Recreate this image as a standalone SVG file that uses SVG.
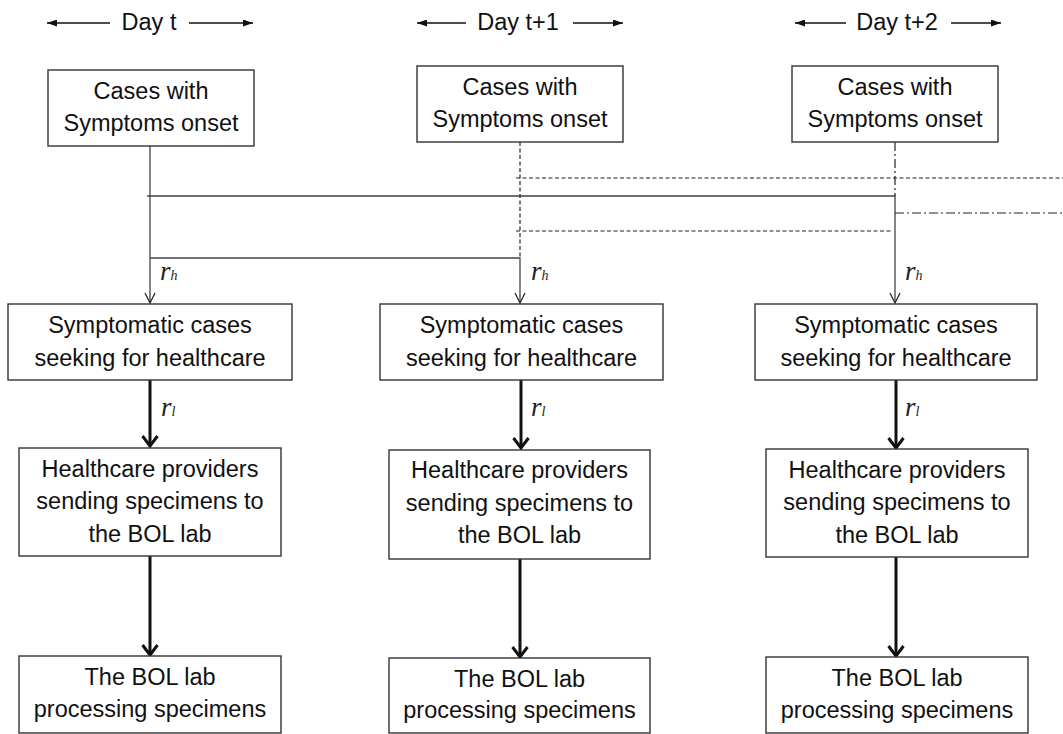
<svg xmlns="http://www.w3.org/2000/svg" width="1063" height="734" viewBox="0 0 1063 734">
  <style>
    .box { fill: #ffffff; stroke: #333; stroke-width: 1.4; }
    .lbl { font-family: "Liberation Sans", Arial, sans-serif; font-size: 23.5px; fill: #111; text-anchor: middle; }
    .day { font-family: "Liberation Sans", Arial, sans-serif; font-size: 23.5px; fill: #111; text-anchor: middle; }
    .math { font-family: "Liberation Serif", "Times New Roman", serif; font-style: italic; font-size: 27px; fill: #222; }
    .sub { font-size: 14px; }
    .thin { fill: none; stroke: #444; stroke-width: 1.3; }
    .dash { fill: none; stroke: #222; stroke-width: 1.2; stroke-dasharray: 4 2.5; }
    .dashdot { fill: none; stroke: #222; stroke-width: 1.2; stroke-dasharray: 9 3 2 3; }
    .thick { fill: none; stroke: #111; stroke-width: 3; }
    .dayline { fill: none; stroke: #111; stroke-width: 1.3; }
  </style>
  <defs>
    <marker id="vthin" viewBox="0 0 12 12" refX="11" refY="6" markerWidth="12" markerHeight="12" markerUnits="userSpaceOnUse" orient="auto">
      <path d="M1,1 L11,6 L1,11" fill="none" stroke="#333" stroke-width="1.4"/>
    </marker>
    <marker id="vthick" viewBox="0 0 13 18" refX="11" refY="9" markerWidth="13" markerHeight="18" markerUnits="userSpaceOnUse" orient="auto">
      <path d="M1,1.5 L11,9 L1,16.5" fill="none" stroke="#111" stroke-width="3" stroke-linejoin="miter"/>
    </marker>
    <marker id="tri" viewBox="0 0 10 7" refX="10" refY="3.5" markerWidth="10" markerHeight="7" markerUnits="userSpaceOnUse" orient="auto">
      <path d="M0,0 L10,3.5 L0,7 z" fill="#111"/>
    </marker>
  </defs>

  <g id="day-labels">
    <line class="dayline" x1="110" y1="23" x2="47" y2="23" marker-end="url(#tri)"/>
    <text class="day" x="149" y="30">Day t</text>
    <line class="dayline" x1="189" y1="23" x2="253" y2="23" marker-end="url(#tri)"/>

    <line class="dayline" x1="466" y1="23" x2="417" y2="23" marker-end="url(#tri)"/>
    <text class="day" x="518" y="30">Day t+1</text>
    <line class="dayline" x1="573" y1="23" x2="623" y2="23" marker-end="url(#tri)"/>

    <line class="dayline" x1="846" y1="23" x2="795" y2="23" marker-end="url(#tri)"/>
    <text class="day" x="897" y="30">Day t+2</text>
    <line class="dayline" x1="951" y1="23" x2="1001" y2="23" marker-end="url(#tri)"/>
  </g>

  <g id="connectors">
    <!-- thin solid routes from Day t onset -->
    <path class="thin" d="M150,146 V303" marker-end="url(#vthin)"/>
    <path class="thin" d="M147,196 H895 V303" marker-end="url(#vthin)"/>
    <path class="thin" d="M150,258 H520 V303" marker-end="url(#vthin)"/>
    <!-- dashed routes from Day t+1 onset -->
    <path class="dash" d="M520,142 V258"/>
    <path class="dash" d="M516,178 H1063"/>
    <path class="dash" d="M516,231 H893"/>
    <!-- dash-dot routes from Day t+2 onset -->
    <path class="dashdot" d="M895,142 V196"/>
    <path class="dashdot" d="M895,213 H1063"/>
    <!-- thick arrows -->
    <path class="thick" d="M150,380 V446" marker-end="url(#vthick)"/>
    <path class="thick" d="M150,556 V655" marker-end="url(#vthick)"/>
    <path class="thick" d="M521,380 V448" marker-end="url(#vthick)"/>
    <path class="thick" d="M520,559 V657" marker-end="url(#vthick)"/>
    <path class="thick" d="M896,380 V448" marker-end="url(#vthick)"/>
    <path class="thick" d="M896,557 V656" marker-end="url(#vthick)"/>
    <!-- rate labels -->
    <text class="math" x="160" y="280">r<tspan class="sub">h</tspan></text>
    <text class="math" x="531" y="280">r<tspan class="sub">h</tspan></text>
    <text class="math" x="905" y="280">r<tspan class="sub">h</tspan></text>
    <text class="math" x="161" y="416">r<tspan class="sub">l</tspan></text>
    <text class="math" x="531" y="416">r<tspan class="sub">l</tspan></text>
    <text class="math" x="905" y="416">r<tspan class="sub">l</tspan></text>
  </g>

  <g id="onset-t">
    <rect class="box" x="48" y="70" width="206" height="76"/>
    <text class="lbl" x="151" y="99">Cases with</text>
    <text class="lbl" x="151" y="131">Symptoms onset</text>
  </g>
  <g id="onset-t1">
    <rect class="box" x="417" y="66" width="206" height="76"/>
    <text class="lbl" x="520" y="95">Cases with</text>
    <text class="lbl" x="520" y="127">Symptoms onset</text>
  </g>
  <g id="onset-t2">
    <rect class="box" x="792" y="66" width="206" height="76"/>
    <text class="lbl" x="895" y="95">Cases with</text>
    <text class="lbl" x="895" y="127">Symptoms onset</text>
  </g>

  <g id="seek-t">
    <rect class="box" x="8" y="304" width="284" height="76"/>
    <text class="lbl" x="150" y="333">Symptomatic cases</text>
    <text class="lbl" x="150" y="366">seeking for healthcare</text>
  </g>
  <g id="seek-t1">
    <rect class="box" x="380" y="304" width="283" height="76"/>
    <text class="lbl" x="521.5" y="333">Symptomatic cases</text>
    <text class="lbl" x="521.5" y="366">seeking for healthcare</text>
  </g>
  <g id="seek-t2">
    <rect class="box" x="755" y="304" width="282" height="76"/>
    <text class="lbl" x="896" y="333">Symptomatic cases</text>
    <text class="lbl" x="896" y="366">seeking for healthcare</text>
  </g>

  <g id="send-t">
    <rect class="box" x="19" y="448" width="262" height="108"/>
    <text class="lbl" x="150" y="477">Healthcare providers</text>
    <text class="lbl" x="150" y="509">sending specimens to</text>
    <text class="lbl" x="150" y="542">the BOL lab</text>
  </g>
  <g id="send-t1">
    <rect class="box" x="389" y="450" width="261" height="109"/>
    <text class="lbl" x="519.5" y="478">Healthcare providers</text>
    <text class="lbl" x="519.5" y="511">sending specimens to</text>
    <text class="lbl" x="519.5" y="543">the BOL lab</text>
  </g>
  <g id="send-t2">
    <rect class="box" x="766" y="449" width="262" height="108"/>
    <text class="lbl" x="897" y="478">Healthcare providers</text>
    <text class="lbl" x="897" y="510">sending specimens to</text>
    <text class="lbl" x="897" y="543">the BOL lab</text>
  </g>

  <g id="lab-t">
    <rect class="box" x="19" y="656" width="262" height="77"/>
    <text class="lbl" x="150" y="685">The BOL lab</text>
    <text class="lbl" x="150" y="717">processing specimens</text>
  </g>
  <g id="lab-t1">
    <rect class="box" x="389" y="658" width="261" height="75"/>
    <text class="lbl" x="519.5" y="687">The BOL lab</text>
    <text class="lbl" x="519.5" y="718">processing specimens</text>
  </g>
  <g id="lab-t2">
    <rect class="box" x="766" y="657" width="262" height="76"/>
    <text class="lbl" x="897" y="686">The BOL lab</text>
    <text class="lbl" x="897" y="718">processing specimens</text>
  </g>
</svg>
